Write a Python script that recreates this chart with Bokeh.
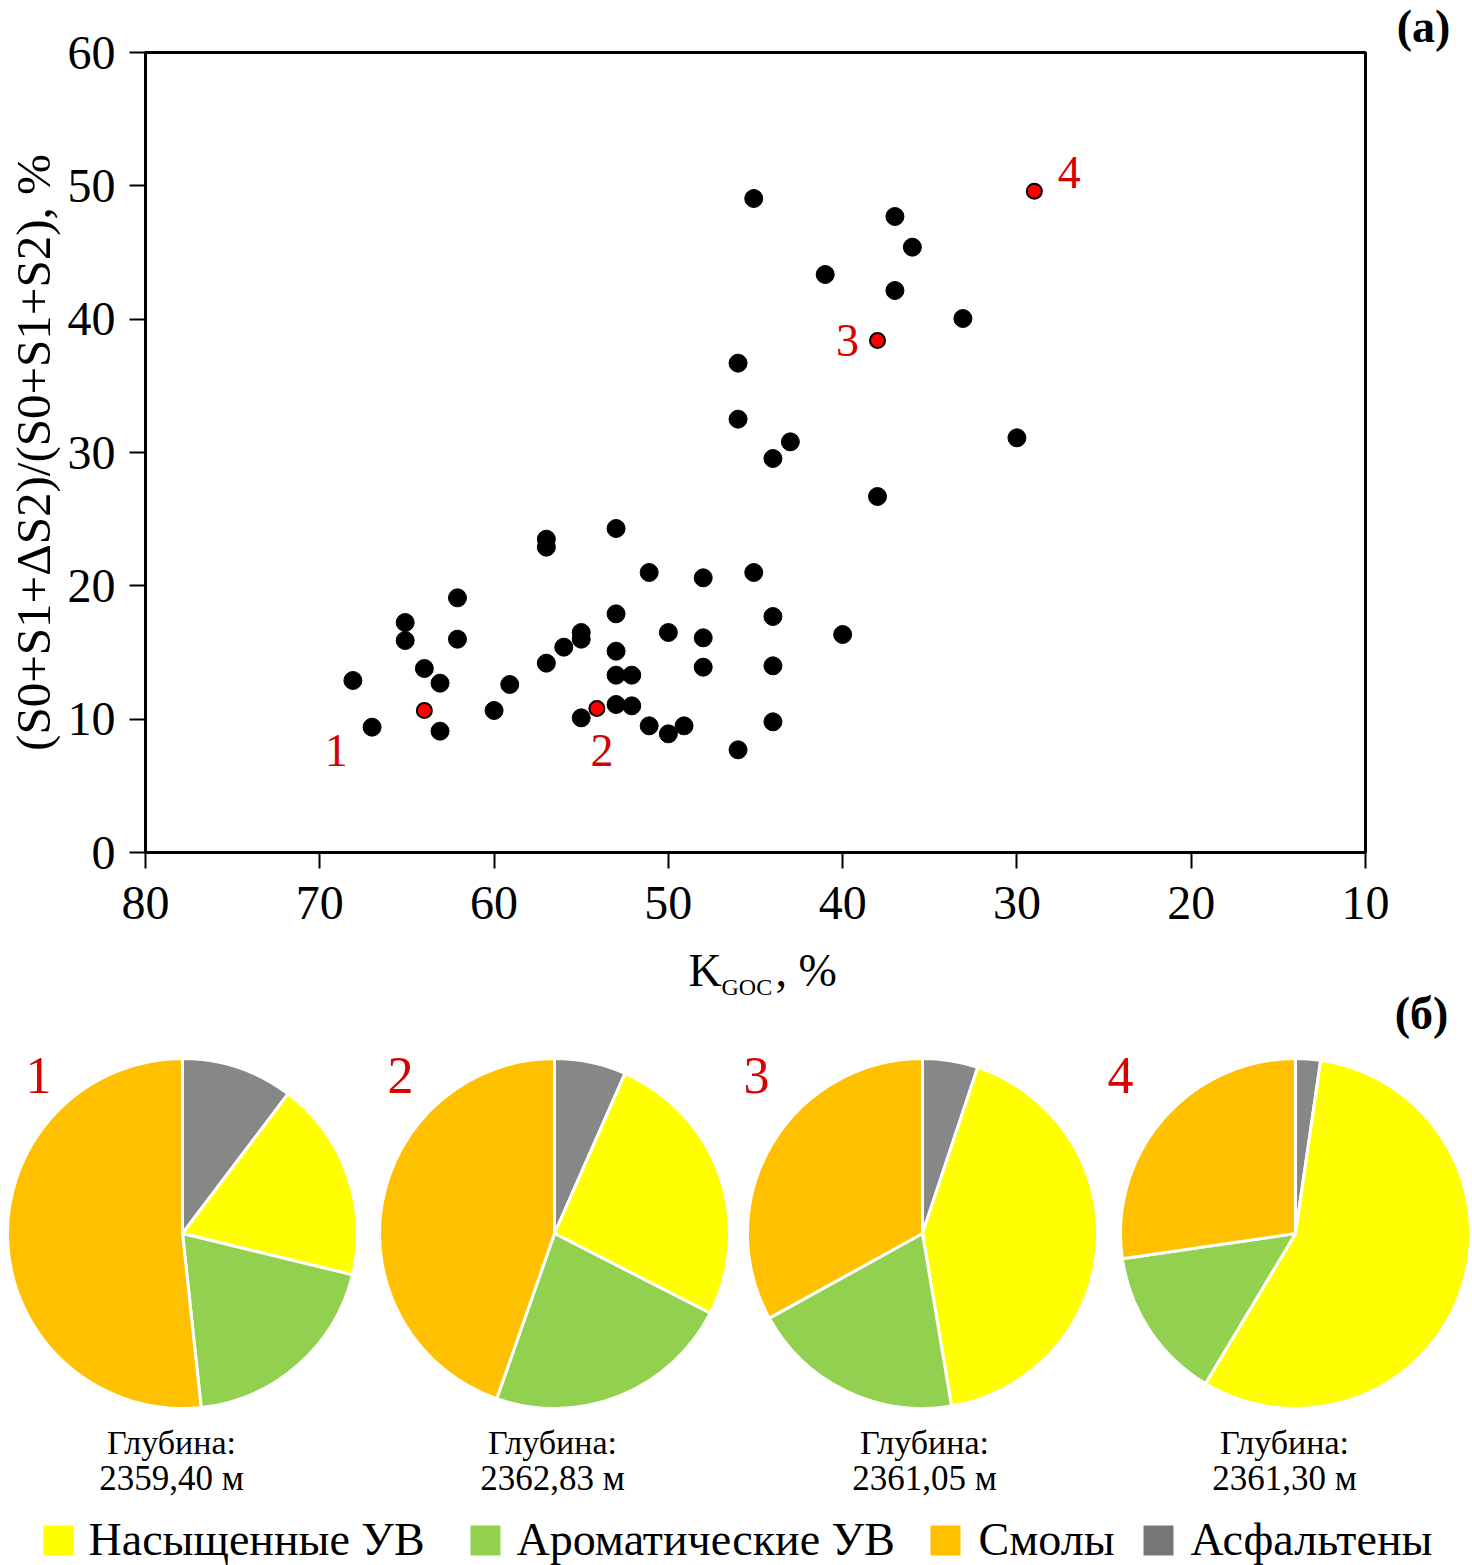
from bokeh.plotting import figure
from bokeh.models import Range1d, ColumnDataSource, FixedTicker
from bokeh.layouts import column, row
from bokeh.core.properties import value
from bokeh.embed import file_html
from bokeh.resources import INLINE
import math

FONT = "Liberation Serif"

# ---------------- data: scatter ----------------
kgoc_black = [68.1, 67.0, 65.1, 65.1, 64.0, 63.1, 63.1, 62.1, 62.1, 60.0, 59.1,
              57.0, 57.0, 57.0, 56.0, 55.0, 55.0, 55.0, 53.0, 53.0, 53.0, 53.0,
              52.1, 53.0, 52.1, 51.1, 51.1, 50.0, 50.0, 49.1, 48.0, 48.0, 48.0,
              46.0, 46.0, 46.0, 45.1, 45.1, 44.0, 44.0, 44.0, 44.0, 43.0, 41.0,
              40.0, 38.0, 37.0, 37.0, 36.0, 33.1, 30.0]
ratio_black = [12.9, 9.4, 17.25, 15.9, 13.8, 12.7, 9.1, 19.1, 16.0, 10.65, 12.6,
               23.5, 22.9, 14.2, 15.4, 16.5, 16.0, 10.1, 24.3, 17.9, 15.1, 13.3,
               13.3, 11.1, 11.0, 21.0, 9.5, 16.5, 8.9, 9.5, 20.6, 16.1, 13.9,
               7.7, 36.7, 32.5, 49.05, 21.0, 29.55, 17.7, 14.0, 9.8, 30.8, 43.35,
               16.35, 26.7, 47.7, 42.15, 45.4, 40.05, 31.1]
kgoc_red = [64.0, 54.1, 38.0, 29.0]
ratio_red = [10.65, 10.8, 38.4, 49.6]
red_labels = ["1", "2", "3", "4"]

x_ticks = [80, 70, 60, 50, 40, 30, 20, 10]
y_ticks = [0, 10, 20, 30, 40, 50, 60]

# ---------------- data: pies ----------------
pie_labels = ["1", "2", "3", "4"]
saturated = [18.5, 25.9, 42.2, 56.3]
aromatic = [19.5, 22.8, 19.6, 14.1]
resins = [51.7, 44.6, 33.0, 27.3]
asphaltenes = [10.3, 6.6, 5.1, 2.3]
depths = ["2359,40 м", "2362,83 м", "2361,05 м", "2361,30 м"]
legend_names = ["Насыщенные УВ", "Ароматические УВ", "Смолы", "Асфальтены"]

C_SAT = "#FFFF00"
C_ARO = "#92D050"
C_RES = "#FFC000"
C_ASP = "#878787"
C_ASP_LEG = "#777777"
RED_TXT = "#D80000"

W = 1472
H1 = 940
W1 = 1392


def bare(fig):
    fig.axis.visible = False
    fig.xgrid.visible = False
    fig.ygrid.visible = False
    fig.outline_line_color = None
    fig.frame_align = False


# ---------------- scatter figure ----------------
p = figure(width=W1, height=H1, output_backend="svg", toolbar_location=None,
           x_range=Range1d(80, 10), y_range=Range1d(0, 60),
           min_border_left=145, min_border_right=W1 - 1365, min_border_top=52,
           min_border_bottom=88)
p.frame_align = False
p.xgrid.visible = False
p.ygrid.visible = False
p.outline_line_color = "black"
p.outline_line_width = 3
p.outline_line_alpha = 1.0

for ax in (p.xaxis[0], p.yaxis[0]):
    ax.axis_line_width = 3
    ax.major_tick_line_width = 2
    ax.major_tick_out = 16
    ax.major_tick_in = 0
    ax.minor_tick_line_color = None
    ax.major_label_text_font = FONT
    ax.major_label_text_font_size = "48px"
    ax.major_label_text_color = "black"
p.xaxis.ticker = FixedTicker(ticks=x_ticks)
p.yaxis.ticker = FixedTicker(ticks=y_ticks)
p.xaxis.major_label_standoff = 18
p.yaxis.major_label_standoff = 14
p.yaxis.axis_label = "(S0+S1+ΔS2)/(S0+S1+S2), %"
p.yaxis.axis_label_text_font = FONT
p.yaxis.axis_label_text_font_size = "49px"
p.yaxis.axis_label_text_font_style = "normal"
p.yaxis.axis_label_text_color = "black"
p.yaxis.axis_label_standoff = 4

p.scatter(kgoc_black, ratio_black, size=18, fill_color="black", line_color="black")
src_red = ColumnDataSource(dict(x=kgoc_red, y=ratio_red, t=red_labels,
                                dx=[-88, 5, -30, 35], dy=[40, 42, 0, -19]))
p.scatter("x", "y", source=src_red, size=15, fill_color="#FF0000",
          line_color="black", line_width=2)
p.text("x", "y", text="t", source=src_red, x_offset="dx", y_offset="dy",
       text_font=value(FONT), text_font_size="46px", text_color=RED_TXT,
       text_align="center", text_baseline="middle")

# ---------------- right strip with panel letter (а) ----------------
r = figure(width=W - W1, height=H1, output_backend="svg", toolbar_location=None,
           x_range=Range1d(W1, W), y_range=Range1d(0, H1), min_border=0,
           min_border_left=0, min_border_right=0, min_border_top=0, min_border_bottom=0)
bare(r)
r.text(x=[1423], y=[H1 - 26], text=["(а)"], text_font=value(FONT), text_font_size="46px",
       text_font_style="bold", text_align="center", text_baseline="middle")

# ---------------- pie figure ----------------
H2 = 1565 - H1
q = figure(width=W, height=H2, output_backend="svg", toolbar_location=None,
           x_range=Range1d(0, W), y_range=Range1d(0, H2),
           min_border=0, min_border_left=0, min_border_right=0,
           min_border_top=0, min_border_bottom=0)
bare(q)

# x-axis title of the scatter: K_GOC, %
q.text(x=[688], y=[1565 - 970], text=["K"], text_font=value(FONT), text_font_size="46px",
       text_align="left", text_baseline="middle")
q.text(x=[721], y=[1565 - 986], text=["GOC"], text_font=value(FONT), text_font_size="24px",
       text_align="left", text_baseline="middle")
q.text(x=[775], y=[1565 - 970], text=[", %"], text_font=value(FONT), text_font_size="46px",
       text_align="left", text_baseline="middle")

cx = [182, 554, 922, 1295]
cy = 1565 - 1233
R = 175
wx, wy, ws, we, wc = [], [], [], [], []
for i in range(4):
    vals = [asphaltenes[i], saturated[i], aromatic[i], resins[i]]
    cols = [C_ASP, C_SAT, C_ARO, C_RES]
    tot = sum(vals)
    cum = 0.0
    for v, c in zip(vals, cols):
        a0 = math.pi / 2 - 2 * math.pi * cum / tot
        cum += v
        a1 = math.pi / 2 - 2 * math.pi * cum / tot
        wx.append(cx[i]); wy.append(cy); ws.append(a0); we.append(a1); wc.append(c)
q.wedge(x=wx, y=wy, radius=R, start_angle=ws, end_angle=we, direction="clock",
        fill_color=wc, line_color="white", line_width=3)

q.text(x=[38, 400, 756, 1120], y=[1565 - 1075] * 4, text=pie_labels,
       text_font=value(FONT), text_font_size="52px", text_color=RED_TXT,
       text_align="center", text_baseline="middle")
dep_x = [171, 552, 924, 1284]
q.text(x=dep_x, y=[1565 - 1442] * 4, text=["Глубина:"] * 4, text_font=value(FONT),
       text_font_size="34px", text_align="center", text_baseline="middle")
q.text(x=dep_x, y=[1565 - 1478] * 4, text=depths, text_font=value(FONT),
       text_font_size="35px", text_align="center", text_baseline="middle")

q.text(x=[1421], y=[1565 - 1013], text=["(б)"], text_font=value(FONT), text_font_size="46px",
       text_font_style="bold", text_align="center", text_baseline="middle")

# legend
leg_sq_x = [58, 485, 945, 1158]
leg_tx_x = [88, 516, 978, 1190]
q.rect(x=leg_sq_x, y=[1565 - 1540] * 4, width=30, height=30,
       fill_color=[C_SAT, C_ARO, C_RES, C_ASP_LEG], line_color=None)
q.text(x=leg_tx_x, y=[1565 - 1539] * 4, text=legend_names, text_font=value(FONT),
       text_font_size="46px", text_align="left", text_baseline="middle")

layout = column(row(p, r), q)
open("out.html", "w").write(file_html(layout, INLINE))
